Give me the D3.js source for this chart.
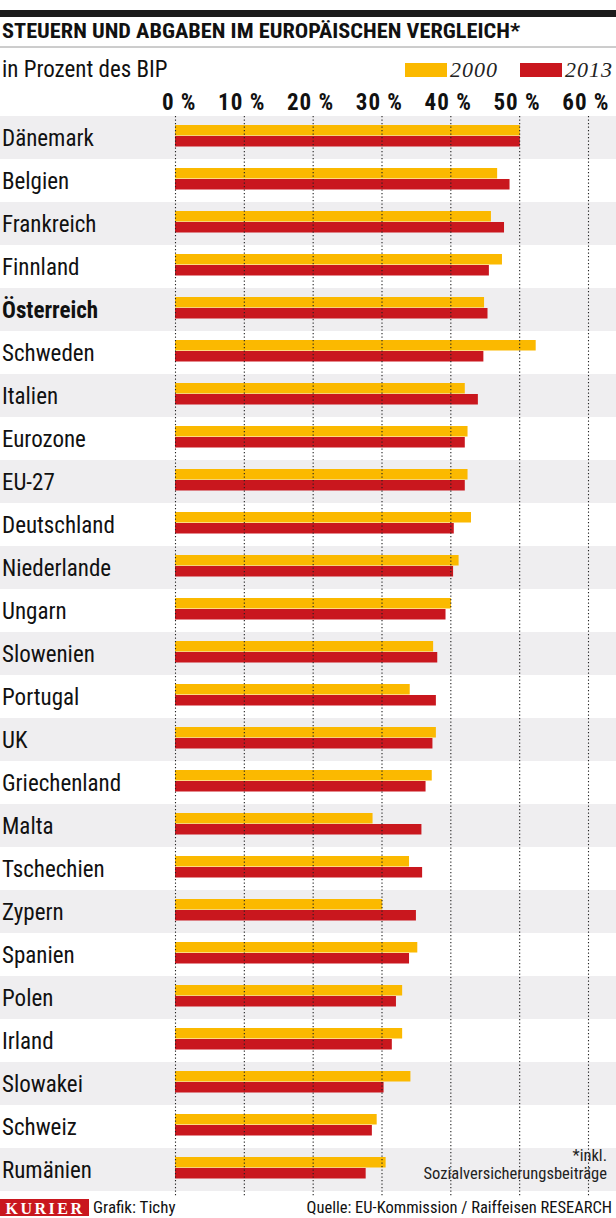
<!DOCTYPE html>
<html><head><meta charset="utf-8">
<script src="https://cdn.jsdelivr.net/npm/d3@7"></script>
<style>
html,body{margin:0;padding:0;background:#fff;}
svg{display:block;}
</style></head>
<body>
<svg id="chart" width="616" height="1218"></svg>
<script>
const countries = ["Dänemark","Belgien","Frankreich","Finnland","Österreich","Schweden","Italien","Eurozone","EU-27","Deutschland","Niederlande","Ungarn","Slowenien","Portugal","UK","Griechenland","Malta","Tschechien","Zypern","Spanien","Polen","Irland","Slowakei","Schweiz","Rumänien"];
const values2000 = [50.1,46.8,45.9,47.5,44.9,52.4,42.1,42.5,42.5,43.0,41.2,40.1,37.5,34.1,37.9,37.3,28.7,34.0,30.1,35.2,33.0,33.0,34.2,29.3,30.6];
const values2013 = [50.1,48.6,47.8,45.6,45.4,44.8,44.0,42.1,42.1,40.5,40.4,39.3,38.1,37.9,37.4,36.4,35.8,35.9,35.0,34.0,32.1,31.5,30.3,28.6,27.7];
const tickValues = [0,10,20,30,40,50,60];
const seriesNames = ["2000","2013"];
const highlight = "Österreich";

const COND = '"Liberation Sans Narrow","Roboto Condensed","DejaVu Sans Condensed",Roboto,sans-serif';
const YELLOW = "#fbb900", RED = "#c9171e", GREY = "#efeef0";

const svg = d3.select("#chart");
const W = 616;

const x = d3.scaleLinear().domain([0,60]).range([175,588]);
const y = d3.scaleBand().domain(countries).range([116,1191]).padding(0);
const color = d3.scaleOrdinal().domain(seriesNames).range([YELLOW, RED]);

// top black bar
svg.append("rect").attr("x",0).attr("y",10).attr("width",W).attr("height",7).attr("fill","#1b1b1b");
// title
svg.append("text").attr("x",2).attr("y",38).attr("font-family",COND).attr("font-weight","bold")
  .attr("font-size",21).attr("textLength",518).attr("lengthAdjust","spacingAndGlyphs")
  .attr("fill","#111").text("STEUERN UND ABGABEN IM EUROPÄISCHEN VERGLEICH*");
svg.append("line").attr("x1",0).attr("x2",W).attr("y1",47).attr("y2",47).attr("stroke","#9a9a9a").attr("stroke-width",1);
// subtitle
svg.append("text").attr("x",2).attr("y",77).attr("font-family",COND).attr("font-size",23).attr("fill","#111").text("in Prozent des BIP");

// legend
const legX = [405, 520];
seriesNames.forEach((s,i)=>{
  svg.append("rect").attr("x",legX[i]).attr("y",63).attr("width",42).attr("height",14).attr("fill",color(s));
  svg.append("text").attr("x",legX[i]+45).attr("y",77).attr("font-family","'Liberation Serif',serif")
    .attr("font-style","italic").attr("font-size",22).attr("letter-spacing",1).attr("fill","#222").text(s);
});

// row backgrounds
svg.append("g").selectAll("rect").data(countries).join("rect")
  .attr("x",0).attr("width",W).attr("y",d=>y(d)).attr("height",y.bandwidth())
  .attr("fill",(d,i)=> i%2===0 ? GREY : "#fff");

// bars
const bars = svg.append("g");
countries.forEach((c,i)=>{
  bars.append("rect").attr("x",x(0)).attr("y",y(c)+9).attr("height",10.5)
    .attr("width",x(values2000[i])-x(0)).attr("fill",color("2000"));
  bars.append("rect").attr("x",x(0)).attr("y",y(c)+20).attr("height",10.5)
    .attr("width",x(values2013[i])-x(0)).attr("fill",color("2013"));
});

// axis with gridlines
const axis = d3.axisTop(x).tickValues(tickValues).tickFormat(d=>d+"\u00a0%")
  .tickSizeInner(-(1197-116)).tickSizeOuter(0).tickPadding(6);
const ag = svg.append("g").attr("transform","translate(0,116)").call(axis);
ag.select(".domain").remove();
ag.selectAll(".tick line").attr("stroke","#222").attr("stroke-width",1.1).attr("stroke-dasharray","1.2,2.3");
ag.selectAll(".tick text").attr("font-family",COND).attr("font-weight","bold").attr("font-size",23)
  .attr("letter-spacing",1).attr("fill","#111").attr("text-anchor","end").attr("x",21);

// country labels
svg.append("g").selectAll("text").data(countries).join("text")
  .attr("x",2).attr("y",d=>y(d)+y.bandwidth()/2+8)
  .attr("font-family",COND).attr("font-size",23).attr("fill","#111")
  .attr("font-weight",d=> d===highlight ? "bold" : "normal").text(d=>d);

// footnote
svg.append("text").attr("x",607).attr("y",1161).attr("text-anchor","end").attr("font-family",COND)
  .attr("font-size",16.5).attr("fill","#222").text("*inkl.");
svg.append("text").attr("x",607).attr("y",1179).attr("text-anchor","end").attr("font-family",COND)
  .attr("font-size",16.5).attr("fill","#222").text("Sozialversicherungsbeiträge");

// footer
svg.append("rect").attr("x",0).attr("y",1199).attr("width",89).attr("height",17).attr("fill","#c9171e");
svg.append("text").attr("x",45).attr("y",1213.5).attr("text-anchor","middle").attr("font-family","'Liberation Serif',serif")
  .attr("font-weight","bold").attr("font-size",16).attr("letter-spacing",2.5).attr("fill","#fff").text("KURIER");
svg.append("text").attr("x",93).attr("y",1213).attr("font-family",COND).attr("font-size",17).attr("fill","#111").text("Grafik: Tichy");
svg.append("text").attr("x",612).attr("y",1213).attr("text-anchor","end").attr("font-family",COND).attr("font-size",16.5).attr("fill","#111")
  .text("Quelle: EU-Kommission / Raiffeisen RESEARCH");
</script>
</body></html>
